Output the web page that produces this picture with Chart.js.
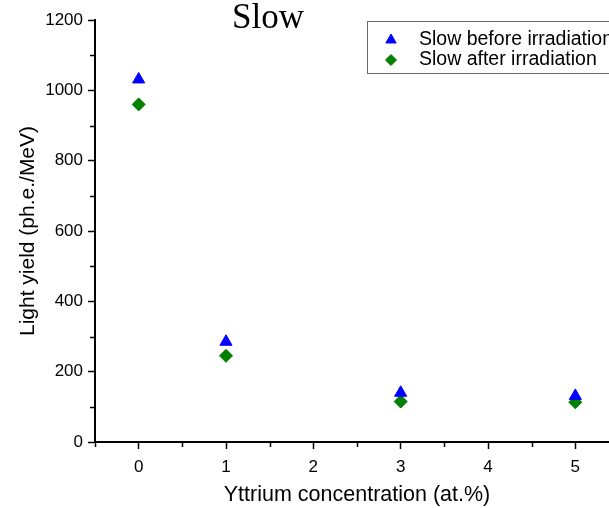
<!DOCTYPE html>
<html>
<head>
<meta charset="utf-8">
<script src="https://cdn.jsdelivr.net/npm/chart.js@4/dist/chart.umd.min.js"></script>
<style>
  html, body { margin: 0; padding: 0; overflow: hidden; background: #fff; }
  #wrap { width: 700px; height: 508px; position: relative; }
</style>
</head>
<body>
<div id="wrap"><canvas id="c" width="700" height="508"></canvas></div>
<script>
// Light yield of the slow component vs yttrium doping
const concentrations = [0, 1, 3, 5];
const slowBefore = [1031, 285, 140, 131];
const slowAfter = [960, 245, 115, 113];
const seriesLabels = ['Slow before irradiation', 'Slow after irradiation'];
const chartTitle = 'Slow';
const xTickValues = [0, 1, 2, 3, 4, 5];
const yTickValues = [0, 200, 400, 600, 800, 1000, 1200];
const xMinorTicks = [-0.5, 0.5, 1.5, 2.5, 3.5, 4.5, 5.5];
const yMinorTicks = [100, 300, 500, 700, 900, 1100];

const SANS = "'Liberation Sans', Arial, sans-serif";
const SERIF = "'Liberation Serif', 'Times New Roman', serif";

function toPoints(xs, ys) {
  return xs.map((x, i) => ({ x: x, y: ys[i] }));
}

// Short unlabeled ticks between the major ones
const minorTicks = {
  id: 'minorTicks',
  afterDraw(chart) {
    const { ctx, chartArea, scales } = chart;
    ctx.save();
    ctx.strokeStyle = '#000';
    ctx.lineWidth = 1.5;
    ctx.beginPath();
    xMinorTicks.forEach(v => {
      const px = Math.round(scales.x.getPixelForValue(v)) + 0.5;
      ctx.moveTo(px, chartArea.bottom);
      ctx.lineTo(px, chartArea.bottom + 5);
    });
    yMinorTicks.forEach(v => {
      const py = Math.round(scales.y.getPixelForValue(v)) + 0.5;
      ctx.moveTo(chartArea.left, py);
      ctx.lineTo(chartArea.left - 5, py);
    });
    ctx.stroke();
    ctx.restore();
  }
};

// Title text and boxed legend placed inside the plot
const overlay = {
  id: 'overlay',
  afterDraw(chart) {
    const { ctx, chartArea } = chart;
    ctx.save();
    ctx.fillStyle = '#000';
    ctx.font = '35px ' + SERIF;
    ctx.textAlign = 'left';
    ctx.textBaseline = 'alphabetic';
    ctx.fillText(chartTitle, chartArea.left + 137, 28);

    const bx = chartArea.left + 272.5, by = 21.5;
    ctx.strokeStyle = '#6a6a6a';
    ctx.lineWidth = 1;
    ctx.strokeRect(bx, by, 320, 52);

    ctx.font = '19.5px ' + SANS;
    ctx.textBaseline = 'middle';
    chart.data.datasets.forEach((ds, i) => {
      const cy = by + 18.5 + i * 20;
      ctx.fillStyle = ds.backgroundColor;
      ctx.strokeStyle = ds.borderColor;
      ctx.lineWidth = 1;
      Chart.helpers.drawPoint(ctx, {
        pointStyle: ds.pointStyle,
        radius: ds.pointRadius * 0.85,
        borderWidth: 1,
        rotation: 0
      }, bx + 23.5, cy);
      ctx.fillStyle = '#000';
      ctx.fillText(ds.label, bx + 51.5, cy);
    });
    ctx.restore();
  }
};

new Chart(document.getElementById('c'), {
  type: 'scatter',
  data: {
    datasets: [
      {
        label: seriesLabels[0],
        data: toPoints(concentrations, slowBefore),
        pointStyle: 'triangle',
        pointRadius: 7,
        pointHoverRadius: 7,
        backgroundColor: '#0000ff',
        borderColor: '#0000ff',
        borderWidth: 1
      },
      {
        label: seriesLabels[1],
        data: toPoints(concentrations, slowAfter),
        pointStyle: 'rectRot',
        pointRadius: 6.5,
        pointHoverRadius: 6.5,
        backgroundColor: '#008000',
        borderColor: '#008000',
        borderWidth: 1
      }
    ]
  },
  options: {
    responsive: false,
    devicePixelRatio: 1,
    animation: false,
    layout: { padding: { left: 12, top: 20, right: 81, bottom: 0 } },
    plugins: {
      legend: { display: false },
      title: { display: false },
      tooltip: { enabled: false }
    },
    scales: {
      x: {
        type: 'linear',
        position: 'bottom',
        min: -0.5,
        max: 5.5,
        afterBuildTicks: s => { s.ticks = xTickValues.map(v => ({ value: v })); },
        afterFit: s => { s.height = 66; },
        grid: {
          display: true, drawOnChartArea: false, drawTicks: true,
          tickLength: 7, tickWidth: 1.5, tickColor: '#000'
        },
        border: { display: true, color: '#000', width: 2 },
        ticks: {
          color: '#000', padding: 8, maxRotation: 0,
          font: { family: SANS, size: 17 },
          callback: v => String(v)
        },
        title: {
          display: true, text: 'Yttrium concentration (at.%)', color: '#000',
          font: { family: SANS, size: 21.5 }, padding: { top: 4, bottom: 0 }
        }
      },
      y: {
        type: 'linear',
        min: 0,
        max: 1200,
        afterBuildTicks: s => { s.ticks = yTickValues.map(v => ({ value: v })); },
        afterFit: s => { s.width = 83; },
        grid: {
          display: true, drawOnChartArea: false, drawTicks: true,
          tickLength: 7, tickWidth: 1.5, tickColor: '#000'
        },
        border: { display: true, color: '#000', width: 2 },
        ticks: {
          color: '#000', padding: 5,
          font: { family: SANS, size: 17 },
          callback: v => String(v)
        },
        title: {
          display: true, text: 'Light yield (ph.e./MeV)', color: '#000',
          font: { family: SANS, size: 21 }, padding: { top: 4, bottom: 4 }
        }
      }
    }
  },
  plugins: [minorTicks, overlay]
});
</script>
</body>
</html>
